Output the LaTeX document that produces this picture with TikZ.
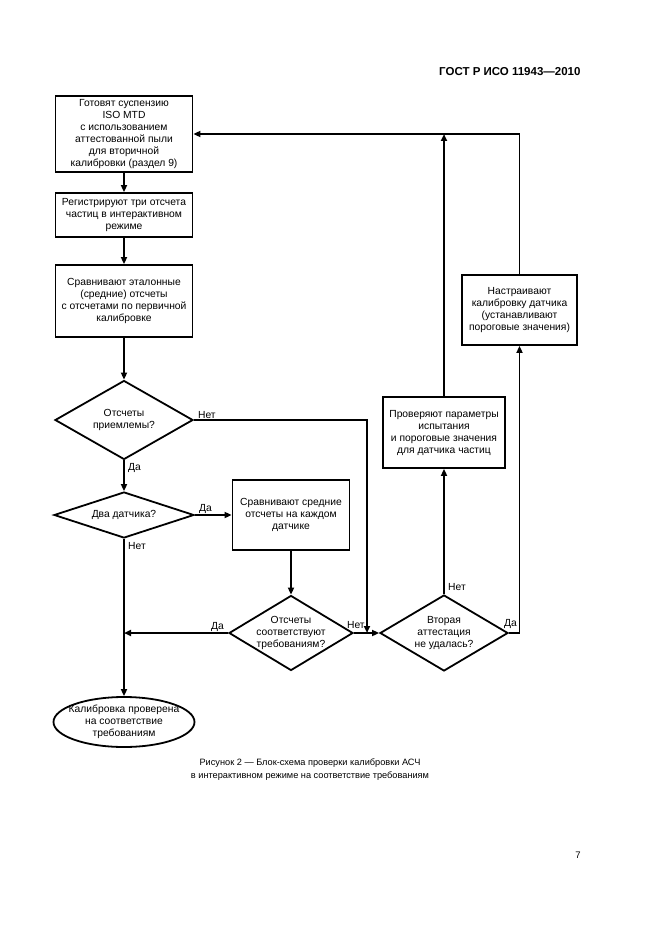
\documentclass[tikz,border=0pt]{standalone}
\usepackage{fontspec}
\setmainfont{Liberation Sans}
\usetikzlibrary{shapes.geometric,arrows.meta,calc}
\begin{document}
\begin{tikzpicture}[x=1pt,y=-1pt,
  every node/.style={font=\fontsize{10.3}{12}\selectfont},
  proc/.style={draw,line width=1.8pt,inner sep=0pt,align=center},
  dia/.style={draw,diamond,line width=1.8pt,inner sep=0pt},
  term/.style={draw,ellipse,line width=1.8pt,inner sep=0pt},
  lbl/.style={inner sep=1pt,align=center},
  ln/.style={line width=1.8pt},
  arr/.style={line width=1.8pt,-{Triangle[length=7pt,width=6pt]}},
]
\useasboundingbox (0,0) rectangle (661,936);
\fill[white] (0,0) rectangle (661,936);

% header and page number
\node[anchor=east,font=\fontsize{11.5}{13}\selectfont\bfseries] (hdr) at (584,72) {ГОСТ Р ИСО 11943—2010};
\node[font=\fontsize{9.5}{11}\selectfont] (pg) at (578,855) {7};

% process boxes
\node[proc,minimum width=137pt,minimum height=76pt] (b1) at (124,134)
  {Готовят суспензию\\ISO MTD\\с использованием\\аттестованной пыли\\для вторичной\\калибровки (раздел 9)};
\node[proc,minimum width=137pt,minimum height=44pt] (b2) at (124,215)
  {Регистрируют три отсчета\\частиц в интерактивном\\режиме};
\node[proc,minimum width=137pt,minimum height=72pt] (b3) at (124,301)
  {Сравнивают эталонные\\(средние) отсчеты\\с отсчетами по первичной\\калибровке};
\node[proc,minimum width=117pt,minimum height=70pt] (b4) at (291,515)
  {Сравнивают средние\\отсчеты на каждом\\датчике};
\node[proc,minimum width=122pt,minimum height=71pt] (b5) at (444,432.5)
  {Проверяют параметры\\испытания\\и пороговые значения\\для датчика частиц};
\node[proc,minimum width=115pt,minimum height=70pt] (b6) at (519.5,310)
  {Настраивают\\калибровку датчика\\(устанавливают\\пороговые значения)};

% decisions
\node[dia,minimum width=138pt,minimum height=79pt,
  label={[lbl]center:Отсчеты\\приемлемы?}] (d1) at (124,420) {};
\node[dia,minimum width=140pt,minimum height=46pt,
  label={[lbl]center:Два датчика?}] (d2) at (124,515) {};
\node[dia,minimum width=124pt,minimum height=75pt,
  label={[lbl]center:Отсчеты\\соответствуют\\требованиям?}] (d3) at (291,633) {};
\node[dia,minimum width=128pt,minimum height=76pt,
  label={[lbl]center:Вторая\\аттестация\\не удалась?}] (d4) at (444,633) {};

% terminal
\node[term,minimum width=141pt,minimum height=50pt,
  label={[lbl]center:Калибровка проверена\\на соответствие\\требованиям}] (e) at (124,722) {};

% connectors
\draw[arr] (b1) -- (b2);
\draw[arr] (b2) -- (b3);
\draw[arr] (b3) -- (d1);
\draw[arr] (d1) -- (d2);
\coordinate (j1) at (367,633);
\draw[arr] (d1.east) -| (j1);
\draw[arr] (d3.east) -- (d4.west);
\draw[arr] (d2.east) -- (b4.west);
\draw[arr] (d2.south) -- (e.north);
\draw[arr] (b4) -- (d3);
\coordinate (j2) at (124,633);
\draw[arr] (d3.west) -- (j2);
\draw[arr] (d4.north) -- (b5.south);
\draw[arr] (d4.east) -| (b6.south);
\coordinate (tr) at (b6.north |- b1.east);
\draw[ln] (b6.north) -- (tr);
\draw[arr] (tr) -- (b1.east);
\draw[arr] (b5.north) -- (b5.north |- b1.east);

% branch labels
\node[lbl,anchor=south west] (n1) at ($(d1.east)+(3,0)$) {Нет};
\node[lbl,anchor=north west] (y1) at ($(d1.south)+(3,2)$) {Да};
\node[lbl,anchor=south west] (y2) at ($(d2.east)+(3,0)$) {Да};
\node[lbl,anchor=north west] (n2) at ($(d2.south)+(3,2)$) {Нет};
\node[lbl,anchor=south east] (y3) at ($(d3.west)+(-3,0)$) {Да};
\node[lbl,anchor=south west] (n3) at ($(d3.east)+(-8,-3)$) {Нет};
\node[lbl,anchor=south west] (n4) at ($(d4.north)+(3,-2)$) {Нет};
\node[lbl,anchor=south west] (y4) at ($(d4.east)+(-6,-3)$) {Да};

% caption
\node[lbl,font=\fontsize{9.2}{13}\selectfont] (cap) at (310,770)
  {Рисунок 2 — Блок-схема проверки калибровки АСЧ\\в интерактивном режиме на соответствие требованиям};
\end{tikzpicture}
\end{document}
